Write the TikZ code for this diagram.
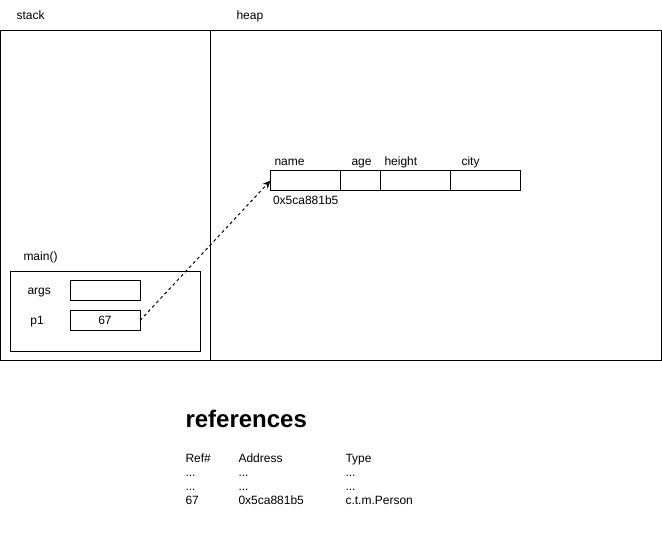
\documentclass[tikz,border=0pt]{standalone}
\usepackage{fontspec}
\setmainfont{Liberation Sans}
\usetikzlibrary{positioning}
\usetikzlibrary{arrows.meta}

\begin{document}
\begin{tikzpicture}[x=1pt, y=-1pt, line width=1pt,
    lbl/.style={font=\fontsize{12}{14}\selectfont, inner sep=0pt, anchor=base west},
    cell/.style={draw, minimum height=20pt, inner sep=0pt, outer sep=0pt, anchor=north west,
        font=\fontsize{12}{14}\selectfont}]
    \useasboundingbox (0,0) rectangle (662,551);

    % stack and heap areas
    \node[draw, minimum width=210pt, minimum height=330pt, anchor=north west] (stack) at (0,30) {};
    \node[draw, minimum width=451pt, minimum height=330pt, anchor=north west] (heap) at (210,30) {};
    \node[lbl] (stacklbl) at (16,20) {stack};
    \node[lbl] (heaplbl) at (236,20) {heap};

    % frame of main()
    \node[lbl] (mainlbl) at (23,260) {main()};
    \node[draw, minimum width=190pt, minimum height=80pt, anchor=north west] (frame) at (10,270.5) {};
    \node[lbl] (argslbl) at (27,294) {args};
    \node[lbl] (p1lbl) at (30,324) {p1};
    \node[cell, minimum width=70pt] (args) at (70,280.5) {};
    \node[cell, minimum width=70pt] (p1) at (70,310.5) {67};

    % object on the heap
    \node[cell, minimum width=70pt] (name) at (270.5,170.5) {};
    \node[cell, minimum width=40pt] (age) at (name.north east) {};
    \node[cell, minimum width=70pt] (height) at (age.north east) {};
    \node[cell, minimum width=70pt] (city) at (height.north east) {};
    \node[lbl] (namelbl) at (274,165) {name};
    \node[lbl] (agelbl) at (351,165) {age};
    \node[lbl] (heightlbl) at (384,165) {height};
    \node[lbl] (citylbl) at (461,165) {city};
    \node[lbl] (addr) at (272.5,204) {0x5ca881b5};

    % reference
    \draw[dash pattern=on 3pt off 3pt, -{Stealth[length=8pt, width=7pt]}] (p1.east) -- (name.west);

    % table of references
    \node[lbl, font=\fontsize{24}{28}\selectfont\bfseries] (title) at (185,427) {references};
    \node[lbl] (h1) at (185,462) {Ref\#};
    \node[lbl] (h2) at (238,462) {Address};
    \node[lbl] (h3) at (345,462) {Type};
    \foreach \y in {476, 490} {
        \node[lbl] at (185,\y) {...};
        \node[lbl] at (238,\y) {...};
        \node[lbl] at (345,\y) {...};
    }
    \node[lbl] (r1) at (185,504) {67};
    \node[lbl] (r2) at (238,504) {0x5ca881b5};
    \node[lbl] (r3) at (345,504) {c.t.m.Person};
\end{tikzpicture}
\end{document}
